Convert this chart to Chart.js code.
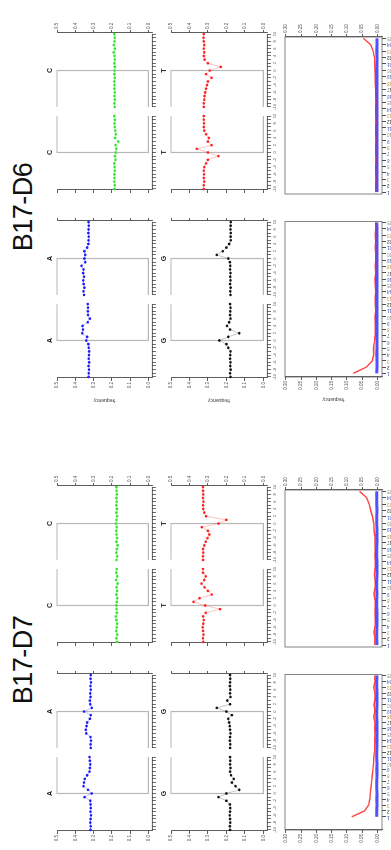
<!DOCTYPE html>
<html>
<head>
<meta charset="utf-8">
<script src="https://cdn.jsdelivr.net/npm/chart.js@4.4.1/dist/chart.umd.min.js"></script>
<style>
  html, body { margin: 0; padding: 0; background: #fff; width: 391px; height: 850px; overflow: hidden; }
  #stage { position: absolute; left: 0; top: 0; width: 850px; height: 391px; background: #fff; overflow: hidden;
           transform-origin: 0 0; transform: translate(0px, 850px) rotate(-90deg); }
  .group { position: absolute; top: 0; width: 425px; height: 391px; }
  .group canvas { position: absolute; }
  .title { position: absolute; left: 90px; top: 10px; width: 200px; text-align: center; color: #111;
           font: 27px "Liberation Sans", Arial, sans-serif; line-height: 27px; letter-spacing: -0.5px; }
</style>
</head>
<body>
<div id="stage"></div>
<script>
// positions around the site, two windows per panel
const POS = [-10, -9, -8, -7, -6, -5, -4, -3, -2, -1, 0, 1, 2, 3, 4, 5, 6, 7, 8, 9, 10];
const POS_LABELS = ['-10', '', '-8', '', '-6', '', '-4', '', '-2', '', '0', '', '2', '', '4', '', '6', '', '8', '', '10'];
const FREQ_TICKS = [0, 0.1, 0.2, 0.3, 0.4, 0.5];
const LINE_TICKS = [0, 0.05, 0.1, 0.15, 0.2, 0.25, 0.3];
const SITES = ['1', '2', '3', '4', '5', '6', '7', '8', '9', '10', '11', '12', '13', '14', '15', '16', '17', '18', '19', '20', '21', '22', '23', '24', '25'];

// B17-D7 nucleotide frequencies (window 1 / window 2)
const D7_A1 = [0.316, 0.315, 0.318, 0.316, 0.314, 0.317, 0.315, 0.316, 0.318, 0.349, 0.310, 0.330, 0.355, 0.352, 0.348, 0.335, 0.322, 0.320, 0.318, 0.320, 0.322];
const D7_A2 = [0.315, 0.316, 0.314, 0.317, 0.340, 0.342, 0.338, 0.335, 0.320, 0.315, 0.352, 0.310, 0.318, 0.320, 0.316, 0.318, 0.315, 0.317, 0.314, 0.316, 0.315];
const D7_C1 = [0.172, 0.175, 0.170, 0.176, 0.173, 0.171, 0.175, 0.178, 0.172, 0.174, 0.176, 0.172, 0.170, 0.175, 0.171, 0.174, 0.168, 0.177, 0.170, 0.176, 0.173];
const D7_C2 = [0.174, 0.170, 0.176, 0.172, 0.168, 0.175, 0.171, 0.174, 0.176, 0.173, 0.177, 0.174, 0.171, 0.175, 0.172, 0.176, 0.173, 0.175, 0.172, 0.174, 0.175];
const D7_G1 = [0.180, 0.181, 0.179, 0.180, 0.182, 0.180, 0.179, 0.181, 0.200, 0.243, 0.200, 0.130, 0.150, 0.170, 0.160, 0.175, 0.180, 0.178, 0.180, 0.179, 0.180];
const D7_G2 = [0.180, 0.179, 0.181, 0.180, 0.178, 0.180, 0.182, 0.185, 0.190, 0.170, 0.200, 0.252, 0.180, 0.195, 0.178, 0.180, 0.179, 0.181, 0.180, 0.179, 0.180];
const D7_T1 = [0.325, 0.327, 0.324, 0.326, 0.328, 0.325, 0.323, 0.326, 0.312, 0.234, 0.315, 0.378, 0.345, 0.279, 0.300, 0.318, 0.335, 0.320, 0.312, 0.326, 0.327];
const D7_T2 = [0.326, 0.327, 0.325, 0.326, 0.320, 0.312, 0.302, 0.292, 0.300, 0.333, 0.243, 0.200, 0.310, 0.320, 0.325, 0.326, 0.324, 0.327, 0.325, 0.326, 0.327];

// B17-D6 nucleotide frequencies
const D6_A1 = [0.327, 0.326, 0.325, 0.327, 0.324, 0.326, 0.325, 0.324, 0.326, 0.328, 0.340, 0.335, 0.362, 0.358, 0.360, 0.332, 0.320, 0.330, 0.331, 0.330, 0.332];
const D6_A2 = [0.352, 0.355, 0.350, 0.354, 0.356, 0.352, 0.357, 0.355, 0.366, 0.345, 0.350, 0.345, 0.350, 0.335, 0.328, 0.327, 0.326, 0.328, 0.327, 0.326, 0.327];
const D6_C1 = [0.185, 0.184, 0.187, 0.185, 0.186, 0.184, 0.185, 0.187, 0.180, 0.183, 0.178, 0.176, 0.180, 0.165, 0.182, 0.178, 0.181, 0.184, 0.185, 0.183, 0.186];
const D6_C2 = [0.184, 0.186, 0.183, 0.185, 0.184, 0.186, 0.185, 0.187, 0.184, 0.186, 0.185, 0.183, 0.186, 0.184, 0.185, 0.190, 0.183, 0.189, 0.185, 0.184, 0.186];
const D6_G1 = [0.178, 0.180, 0.177, 0.179, 0.178, 0.180, 0.179, 0.178, 0.190, 0.200, 0.238, 0.190, 0.130, 0.180, 0.197, 0.185, 0.178, 0.180, 0.179, 0.178, 0.180];
const D6_G2 = [0.178, 0.179, 0.177, 0.180, 0.178, 0.179, 0.178, 0.180, 0.179, 0.181, 0.190, 0.252, 0.220, 0.200, 0.185, 0.176, 0.177, 0.176, 0.178, 0.177, 0.176];
const D6_T1 = [0.322, 0.323, 0.320, 0.322, 0.321, 0.323, 0.320, 0.310, 0.300, 0.243, 0.300, 0.360, 0.280, 0.300, 0.295, 0.310, 0.320, 0.322, 0.321, 0.323, 0.322];
const D6_T2 = [0.322, 0.323, 0.320, 0.318, 0.315, 0.310, 0.305, 0.300, 0.280, 0.310, 0.290, 0.230, 0.300, 0.318, 0.322, 0.320, 0.323, 0.320, 0.322, 0.324, 0.323];

// per-site frequencies, lower panels
const D7_RED_L  = [0.084, 0.042, 0.029, 0.025, 0.023, 0.021, 0.019, 0.017, 0.015, 0.013, 0.012, 0.010, 0.009, 0.009, 0.008, 0.009, 0.008, 0.012, 0.008, 0.011, 0.008, 0.008, 0.012, 0.008, 0.009];
const D7_BLUE_L = [0.002, 0.002, 0.001, 0.002, 0.001, 0.002, 0.002, 0.001, 0.002, 0.001, 0.002, 0.002, 0.001, 0.002, 0.001, 0.002, 0.001, 0.002, 0.002, 0.001, 0.002, 0.001, 0.002, 0.002, 0.001];
const D7_RED_R  = [0.009, 0.008, 0.011, 0.008, 0.007, 0.008, 0.007, 0.008, 0.011, 0.008, 0.007, 0.010, 0.008, 0.007, 0.008, 0.007, 0.008, 0.009, 0.011, 0.012, 0.016, 0.022, 0.027, 0.035, 0.059];
const D7_BLUE_R = [0.001, 0.002, 0.002, 0.001, 0.002, 0.001, 0.002, 0.002, 0.001, 0.002, 0.002, 0.001, 0.002, 0.001, 0.002, 0.002, 0.001, 0.002, 0.001, 0.002, 0.002, 0.001, 0.002, 0.002, 0.002];
const D6_RED_L  = [0.079, 0.036, 0.017, 0.012, 0.013, 0.010, 0.008, 0.007, 0.007, 0.008, 0.006, 0.007, 0.007, 0.006, 0.007, 0.008, 0.006, 0.007, 0.006, 0.006, 0.007, 0.006, 0.007, 0.006, 0.006];
const D6_BLUE_L = [0.002, 0.001, 0.001, 0.002, 0.001, 0.001, 0.002, 0.001, 0.001, 0.002, 0.001, 0.001, 0.002, 0.001, 0.001, 0.002, 0.001, 0.001, 0.002, 0.001, 0.001, 0.002, 0.001, 0.001, 0.002];
const D6_RED_R  = [0.006, 0.006, 0.005, 0.006, 0.006, 0.005, 0.006, 0.006, 0.005, 0.006, 0.006, 0.005, 0.006, 0.006, 0.005, 0.006, 0.006, 0.007, 0.007, 0.008, 0.009, 0.010, 0.014, 0.022, 0.046];
const D6_BLUE_R = [0.001, 0.002, 0.001, 0.001, 0.002, 0.001, 0.001, 0.002, 0.001, 0.001, 0.002, 0.001, 0.001, 0.002, 0.001, 0.001, 0.002, 0.001, 0.001, 0.002, 0.001, 0.001, 0.002, 0.001, 0.001];

const SITE_COLORS = ['#3b5bb5', '#333333', '#c98a3a', '#3b5bb5', '#888888'];
const WIN2 = 22.5; // x offset of the second window

Chart.defaults.font.family = "'Liberation Sans', Arial, sans-serif";
Chart.defaults.animation = false;
Chart.defaults.events = [];
Chart.defaults.plugins.legend.display = false;
Chart.defaults.plugins.tooltip.enabled = false;

const stage = document.getElementById('stage');

function addGroup(left, title) {
  const g = document.createElement('div');
  g.className = 'group';
  g.style.left = left + 'px';
  const t = document.createElement('div');
  t.className = 'title';
  t.textContent = title;
  g.appendChild(t);
  stage.appendChild(g);
  return g;
}

function addCanvas(g, x, y, w, h) {
  const c = document.createElement('canvas');
  c.width = w; c.height = h;
  c.style.left = x + 'px'; c.style.top = y + 'px';
  c.style.width = w + 'px'; c.style.height = h + 'px';
  g.appendChild(c);
  return c.getContext('2d');
}

// grey bracket from each window centre, letter on top, broken x spine
const bracketPlugin = {
  id: 'bracket',
  beforeDatasetsDraw(chart, args, opts) {
    const { ctx, scales: { x, y } } = chart;
    const y0 = y.getPixelForValue(0), y1 = y.getPixelForValue(0.5);
    ctx.save();
    ctx.strokeStyle = '#b8b8b8';
    ctx.lineWidth = 1.2;
    [[10, 20], [WIN2 + 10, WIN2]].forEach(([c, e]) => {
      const xc = x.getPixelForValue(c), xe = x.getPixelForValue(e);
      ctx.beginPath();
      ctx.moveTo(xe, y1); ctx.lineTo(xc, y1); ctx.lineTo(xc, y0); ctx.lineTo(xe, y0);
      ctx.stroke();
    });
    ctx.restore();
  },
  afterDraw(chart, args, opts) {
    const { ctx, chartArea, scales: { x } } = chart;
    ctx.save();
    ctx.strokeStyle = '#333';
    ctx.lineWidth = 0.8;
    [[0, 20], [WIN2, WIN2 + 20]].forEach(([a, b]) => {
      ctx.beginPath();
      ctx.moveTo(x.getPixelForValue(a), chartArea.bottom + 0.4);
      ctx.lineTo(x.getPixelForValue(b), chartArea.bottom + 0.4);
      ctx.stroke();
    });
    ctx.fillStyle = '#222';
    ctx.font = "bold 7px 'Liberation Sans', Arial, sans-serif";
    ctx.textAlign = 'center';
    ctx.textBaseline = 'bottom';
    [10, WIN2 + 10].forEach(c => ctx.fillText(opts.letter, x.getPixelForValue(c), chartArea.top - 3));
    ctx.restore();
  }
};

const boxPlugin = {
  id: 'box',
  afterDraw(chart) {
    const { ctx, chartArea: a } = chart;
    ctx.save();
    ctx.strokeStyle = '#666';
    ctx.lineWidth = 0.8;
    ctx.strokeRect(a.left, a.top, a.right - a.left, a.bottom - a.top);
    ctx.restore();
  }
};

function freqAxis(pos, labeled, width, title, min, max, ticks, digits) {
  return {
    position: pos, min: min, max: max,
    afterBuildTicks: s => { s.ticks = ticks.map(v => ({ value: v })); },
    afterFit: s => { s.width = width; },
    border: { display: true, color: '#333', width: 0.8 },
    grid: { drawOnChartArea: false, drawTicks: true, tickLength: 3, color: '#333', lineWidth: 0.8 },
    ticks: { display: labeled, font: { size: 4.5 }, color: '#556', padding: 1, callback: v => v.toFixed(digits) },
    title: { display: !!title, text: title || '', font: { size: 5 }, color: '#444', padding: 1 }
  };
}

function nucPanel(g, side, row, letter, color, light, w1, w2) {
  const left = side === 'left';
  const areaL = left ? 19 : 207, areaR = left ? 176 : 364;
  const top = row === 1 ? 57 : 171, bottom = row === 1 ? 152 : 267;
  const mL = left ? 26 : 5, mR = left ? 5 : 26, mT = 12, mB = 12;
  const ctx = addCanvas(g, areaL - mL, top - mT, areaR - areaL + mL + mR, bottom - top + mT + mB);
  const ds = (vals, off) => ({
    data: vals.map((v, k) => ({ x: POS[k] + 10 + off, y: v })),
    showLine: true, borderColor: light, borderWidth: 0.6,
    pointRadius: 1.3, pointBackgroundColor: color, pointBorderWidth: 0, clip: 4
  });
  new Chart(ctx, {
    type: 'scatter',
    data: { datasets: [ds(w1, 0), ds(w2, WIN2)] },
    options: {
      responsive: false, devicePixelRatio: 1,
      layout: { padding: { top: mT, left: 0, right: 0, bottom: 0 } },
      plugins: { bracket: { letter: letter } },
      scales: {
        x: {
          type: 'linear', min: -0.3, max: 42.8,
          afterBuildTicks: s => { s.ticks = POS.map(p => ({ value: p + 10 })).concat(POS.map(p => ({ value: p + 10 + WIN2 }))); },
          afterFit: s => { s.height = mB; },
          border: { display: false },
          grid: { drawOnChartArea: false, drawTicks: true, tickLength: 4, color: '#333', lineWidth: 0.7 },
          ticks: { display: row === 2, autoSkip: false, maxRotation: 0, font: { size: 4 }, color: '#557', padding: 1,
                   callback: (v, i) => POS_LABELS[i % POS.length] }
        },
        y: freqAxis('left', left, left ? mL : mL, left ? 'frequency' : '', -0.02, 0.5, FREQ_TICKS, 1),
        y2: freqAxis('right', !left, mR, '', -0.02, 0.5, FREQ_TICKS, 1)
      }
    },
    plugins: [bracketPlugin]
  });
}

function siteChart(g, side, xMin, xMax, red, blue) {
  const left = side === 'left';
  const areaL = left ? 20 : 203, areaR = left ? 177 : 360;
  const top = 285, bottom = 382;
  const mL = left ? 26 : 4, mR = left ? 4 : 26, mT = 4, mB = 14;
  const ctx = addCanvas(g, areaL - mL, top - mT, areaR - areaL + mL + mR, bottom - top + mT + mB);
  new Chart(ctx, {
    type: 'line',
    data: {
      datasets: [
        { data: red.map((v, i) => ({ x: i, y: v })), borderColor: 'rgba(255,20,20,0.8)', borderWidth: 1.4, pointRadius: 0 },
        { data: blue.map((v, i) => ({ x: i, y: v })), borderColor: 'rgba(50,50,255,0.85)', borderWidth: 3, pointRadius: 0 }
      ]
    },
    options: {
      responsive: false, devicePixelRatio: 1,
      layout: { padding: { top: mT, left: left ? 0 : mL, right: left ? mR : 0, bottom: 0 } },
      scales: {
        x: {
          type: 'linear', min: xMin, max: xMax,
          afterBuildTicks: s => { s.ticks = SITES.map((_, i) => ({ value: i })); },
          afterFit: s => { s.height = mB; },
          border: { display: false },
          grid: { drawOnChartArea: false, drawTicks: true, tickLength: 4, color: '#222', lineWidth: 0.8 },
          ticks: { autoSkip: false, minRotation: 90, maxRotation: 90, font: { size: 4.5 }, padding: 1,
                   color: c => SITE_COLORS[c.index % SITE_COLORS.length], callback: (v, i) => SITES[i] }
        },
        y: freqAxis(left ? 'left' : 'right', true, left ? mL : mR, left ? 'frequency' : '', -0.015, 0.303, LINE_TICKS, 2)
      }
    },
    plugins: [boxPlugin]
  });
}

function buildGroup(left, title, d) {
  const g = addGroup(left, title);
  nucPanel(g, 'left', 1, 'A', '#1a1aff', 'rgba(26,26,255,0.45)', d.A1, d.A2);
  nucPanel(g, 'right', 1, 'C', '#2ee62e', 'rgba(46,230,46,0.45)', d.C1, d.C2);
  nucPanel(g, 'left', 2, 'G', '#111111', 'rgba(17,17,17,0.4)', d.G1, d.G2);
  nucPanel(g, 'right', 2, 'T', '#ff2020', 'rgba(255,32,32,0.45)', d.T1, d.T2);
  siteChart(g, 'left', d.xl[0], d.xl[1], d.redL, d.blueL);
  siteChart(g, 'right', -0.3, 24.2, d.redR, d.blueR);
}

buildGroup(0, 'B17-D7', {
  A1: D7_A1, A2: D7_A2, C1: D7_C1, C2: D7_C2, G1: D7_G1, G2: D7_G2, T1: D7_T1, T2: D7_T2,
  redL: D7_RED_L, blueL: D7_BLUE_L, redR: D7_RED_R, blueR: D7_BLUE_R, xl: [-2.24, 24.17]
});
buildGroup(453, 'B17-D6', {
  A1: D6_A1, A2: D6_A2, C1: D6_C1, C2: D6_C2, G1: D6_G1, G2: D6_G2, T1: D6_T1, T2: D6_T2,
  redL: D6_RED_L, blueL: D6_BLUE_L, redR: D6_RED_R, blueR: D6_BLUE_R, xl: [-0.58, 24.16]
});
</script>
</body>
</html>
